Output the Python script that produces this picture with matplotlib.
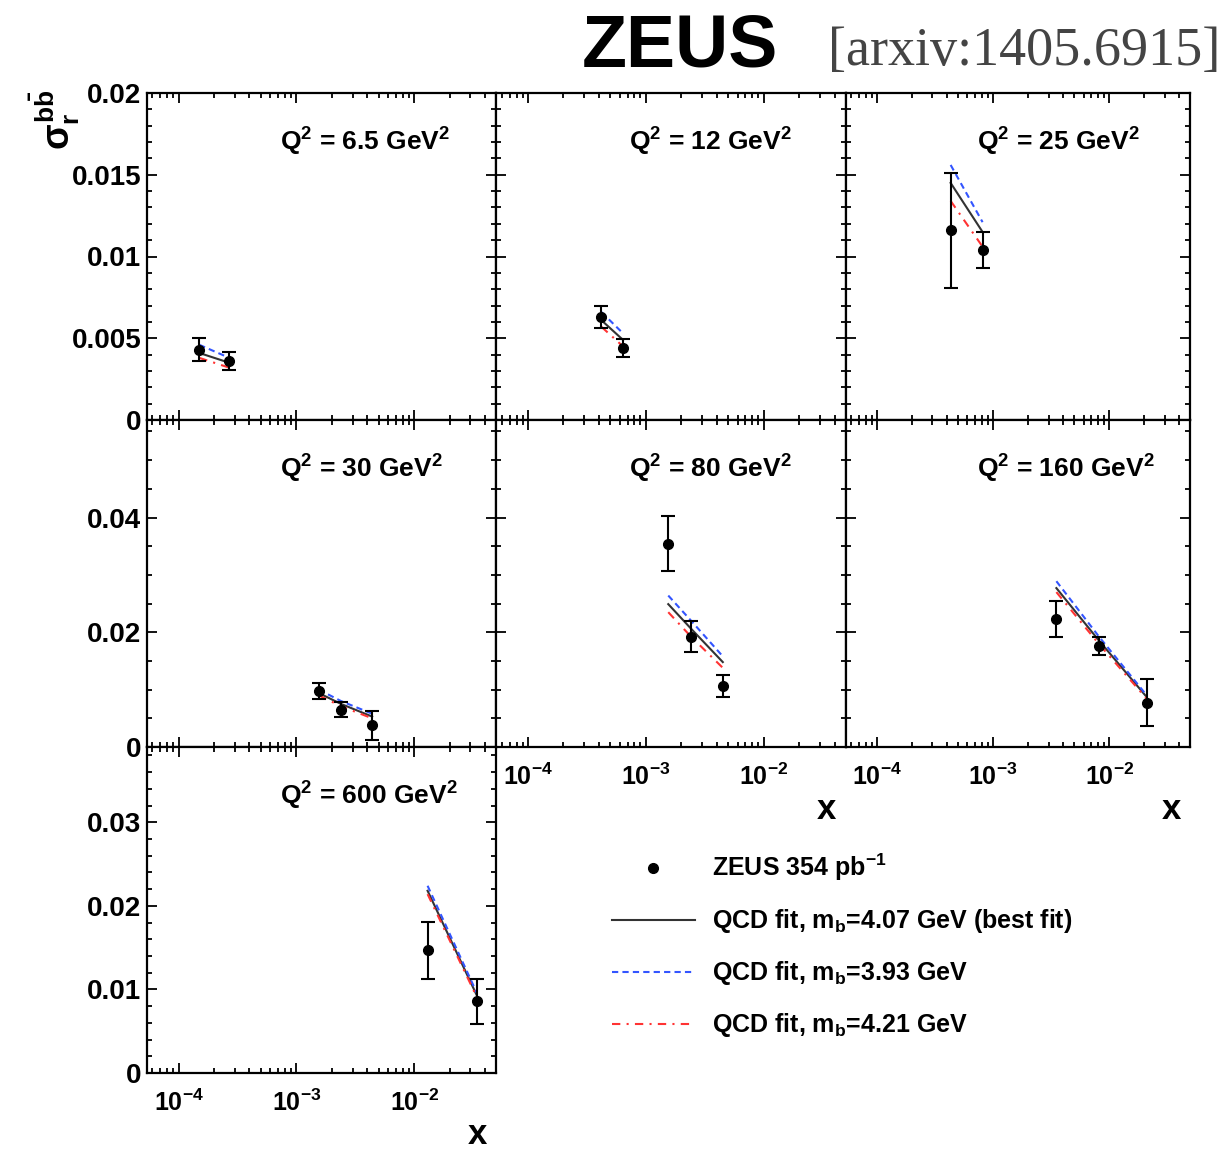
import numpy as np
import matplotlib
matplotlib.use("Agg")
import matplotlib.pyplot as plt
from matplotlib.ticker import MultipleLocator, LogLocator, NullFormatter, FuncFormatter

plt.rcParams['font.family'] = ['Liberation Sans', 'DejaVu Sans']
plt.rcParams['font.weight'] = 'bold'
plt.rcParams['mathtext.fontset'] = 'custom'
plt.rcParams['mathtext.rm'] = 'Liberation Sans:bold'
plt.rcParams['mathtext.it'] = 'Liberation Sans:bold'
plt.rcParams['mathtext.bf'] = 'Liberation Sans:bold'
plt.rcParams['mathtext.sf'] = 'Liberation Sans:bold'

# ---- data ----
q2_labels = ['6.5', '12', '25', '30', '80', '160', '600']

x_pts = [
    [1.5e-4, 2.7e-4],
    [4.2e-4, 6.4e-4],
    [4.3e-4, 8.1e-4],
    [1.55e-3, 2.4e-3, 4.4e-3],
    [1.55e-3, 2.4e-3, 4.5e-3],
    [3.5e-3, 8.1e-3, 2.1e-2],
    [1.3e-2, 3.4e-2],
]
sigma = [
    [0.0043, 0.0036],
    [0.0063, 0.0044],
    [0.0116, 0.0104],
    [0.0098, 0.0065, 0.0038],
    [0.0354, 0.0192, 0.0107],
    [0.0223, 0.0176, 0.0077],
    [0.0147, 0.0086],
]
sigma_err = [
    [0.0007, 0.00055],
    [0.0007, 0.00055],
    [0.0035, 0.0011],
    [0.0014, 0.0013, 0.0025],
    [0.0048, 0.0027, 0.0019],
    [0.0032, 0.0016, 0.0041],
    [0.0034, 0.0027],
]
fit_best = [
    [0.0041, 0.0035],
    [0.0061, 0.0049],
    [0.0145, 0.0115],
    [0.0094, 0.0075, 0.0053],
    [0.0249, 0.0207, 0.0148],
    [0.0277, 0.0186, 0.0087],
    [0.0218, 0.0093],
]
fit_low_mb = [
    [0.0046, 0.0038],
    [0.0066, 0.0053],
    [0.0156, 0.0121],
    [0.0100, 0.0080, 0.0058],
    [0.0264, 0.0221, 0.0158],
    [0.0289, 0.0193, 0.0090],
    [0.0224, 0.0096],
]
fit_high_mb = [
    [0.0038, 0.0032],
    [0.0057, 0.0045],
    [0.0134, 0.0106],
    [0.0090, 0.0071, 0.0050],
    [0.0235, 0.0193, 0.0138],
    [0.0270, 0.0180, 0.0084],
    [0.0214, 0.0091],
]

# panel grid (row, col) and per-row y ranges
panel_pos = [(0, 0), (0, 1), (0, 2), (1, 0), (1, 1), (1, 2), (2, 0)]
row_ylim = [0.02, 0.057, 0.039]
row_major = [0.005, 0.02, 0.01]
row_minor = [0.001, 0.005, 0.002]

W, H = 1225, 1168
fig = plt.figure(figsize=(W / 100, H / 100), dpi=100)

col_edges = [147, 496.5, 846, 1190.5]
row_edges = [93, 420, 747, 1073]


def px_rect(x0, x1, y0, y1):
    return [x0 / W, 1 - y1 / H, (x1 - x0) / W, (y1 - y0) / H]


def decade_fmt(v, pos):
    return r'$10^{%d}$' % int(round(np.log10(v)))


handles = None
for i, (r, c) in enumerate(panel_pos):
    ax = fig.add_axes(px_rect(col_edges[c], col_edges[c + 1], row_edges[r], row_edges[r + 1]))
    ax.set_xscale('log')
    ax.set_xlim(5.4e-5, 0.05)
    ax.set_ylim(0, row_ylim[r])
    ax.yaxis.set_major_locator(MultipleLocator(row_major[r]))
    ax.yaxis.set_minor_locator(MultipleLocator(row_minor[r]))
    ax.xaxis.set_major_locator(LogLocator(base=10))
    ax.xaxis.set_minor_locator(LogLocator(base=10, subs=np.arange(2, 10)))
    ax.xaxis.set_minor_formatter(NullFormatter())
    ax.tick_params(which='both', direction='in', top=True, right=True, width=1.3)
    ax.tick_params(which='major', length=7)
    ax.tick_params(which='minor', length=3.5)
    ax.tick_params(axis='y', labelsize=20, pad=4)
    ax.tick_params(axis='x', labelsize=18, pad=12)
    for s in ax.spines.values():
        s.set_linewidth(1.6)

    if c == 0:
        ax.yaxis.set_major_formatter(FuncFormatter(lambda v, p: '%g' % round(v, 4)))
    else:
        ax.set_yticklabels([])
    show_x = (r == 2) or (r == 1 and c > 0)
    if show_x:
        ax.xaxis.set_major_formatter(FuncFormatter(decade_fmt))
        ax.text(0.945, -0.19, 'x', transform=ax.transAxes, ha='center', va='center',
                fontsize=25, fontweight='bold')
    else:
        ax.set_xticklabels([])

    xs = x_pts[i]
    l_best, = ax.plot(xs, fit_best[i], color='#333333', lw=1.5, ls='-')
    l_low, = ax.plot(xs, fit_low_mb[i], color='#3355ff', lw=1.5, ls=(0, (3, 2)))
    l_high, = ax.plot(xs, fit_high_mb[i], color='#ff3333', lw=1.5, ls=(0, (4, 3, 1, 3)))
    ax.errorbar(xs, sigma[i], yerr=sigma_err[i], fmt='none', ecolor='black',
                elinewidth=1.5, capsize=5, capthick=1.5)
    l_data, = ax.plot(xs, sigma[i], 'o', color='black', markersize=7, ls='none')

    ax.text(0.38, 0.85, 'Q$^2$ = %s GeV$^2$' % q2_labels[i], transform=ax.transAxes,
            ha='left', va='center', fontsize=19, fontweight='bold')
    handles = [l_data, l_best, l_low, l_high]

labels = ['ZEUS 354 pb$^{-1}$',
          'QCD fit, m$_b$=4.07 GeV (best fit)',
          'QCD fit, m$_b$=3.93 GeV',
          'QCD fit, m$_b$=4.21 GeV']
fig.legend(handles, labels, loc='upper left', bbox_to_anchor=(612 / W, 1 - 852 / H),
           frameon=False, handlelength=3.3, handletextpad=0.7, labelspacing=0.96,
           borderpad=0, borderaxespad=0, prop={'size': 18, 'weight': 'bold'})

# y axis title
fig.text(55 / W, 1 - 90 / H, r'$\sigma_r^{b\bar{b}}$', rotation=90, ha='center', va='top',
         fontsize=27)

fig.text(680 / W, 1 - 68 / H, 'ZEUS', ha='center', va='baseline', fontsize=53,
         fontweight='bold', color='black')
fig.text(828 / W, 1 - 65 / H, '[arxiv:1405.6915]', ha='left', va='baseline', fontsize=39,
         fontweight='normal', family='Liberation Serif', color='#444444')

fig.savefig('out.png', dpi=100)
